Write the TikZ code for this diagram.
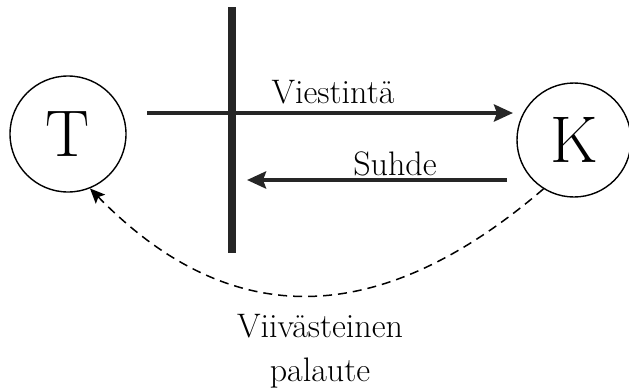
\documentclass[tikz,border=0pt]{standalone}
\usetikzlibrary{arrows.meta}
\begin{document}
\begin{tikzpicture}[x=1pt,y=-1pt,
  party/.style={circle,draw,line width=1.4pt,inner sep=0pt},
  bigletter/.style={font=\fontsize{66}{66}\selectfont},
  label/.style={font=\fontsize{34}{44}\selectfont,inner sep=0pt,anchor=base},
  flow/.style={line width=4.5pt,draw=black!85,-{Stealth[length=19pt,width=17pt,inset=3pt]}},
  feedback/.style={line width=1.5pt,dash pattern=on 9pt off 6pt,-{Stealth[length=15pt,width=13pt,inset=3pt]}}]
\useasboundingbox (0,0) rectangle (629,389);
\node[party,minimum size=116pt] (T) at (68,134) {};
\node[bigletter] at (T.center) {T};
\node[party,minimum size=114pt] (K) at (574,140) {};
\node[bigletter] at (K.center) {K};
\coordinate (barTop) at (232,7);
\coordinate (barBot) at (232,253);
\draw[line width=8.5pt,draw=black!85] (barTop) -- (barBot);
\coordinate (a1) at (147,113);
\coordinate (a2) at (513,113);
\draw[flow] (a1) -- (a2);
\coordinate (b1) at (507,180);
\coordinate (b2) at (247,180);
\draw[flow] (b1) -- (b2);
\node[label] (vi) at (333,103) {Viestintä};
\node[label] (su) at (395,175) {Suhde};
\draw[feedback] (K.-122) .. controls (378,331) and (229,331) .. (T.-68);
\node[label,align=center,anchor=north] (fb) at (320,314) {Viivästeinen\\palaute};
\end{tikzpicture}
\end{document}
